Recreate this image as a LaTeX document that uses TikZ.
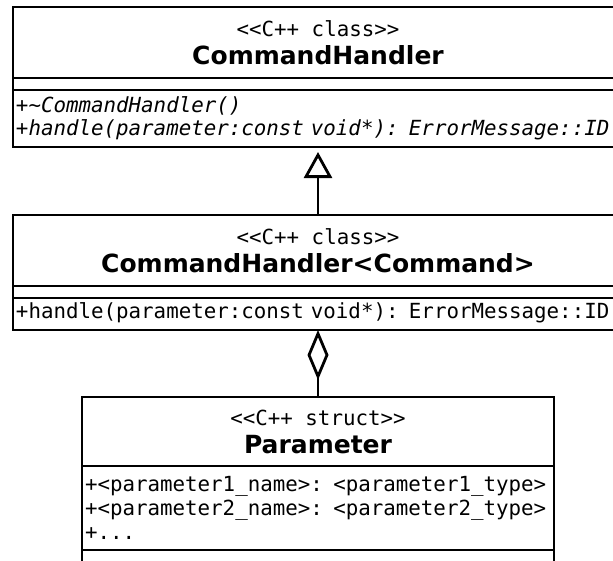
\documentclass[tikz,border=0pt]{standalone}
\usepackage{fontspec}
\setmainfont{DejaVu Sans}
\newfontfamily\umlmono{DejaVu Sans Mono}
\newfontfamily\umlsans{DejaVu Sans}
\usepackage{tikz}
\usetikzlibrary{arrows.meta,positioning}
\newcommand{\umlname}[1]{{\umlsans\bfseries\fontsize{25}{28}\selectfont #1}}

\begin{document}
\begin{tikzpicture}[
  x=1pt, y=-1pt,
  part/.style={draw, line width=2.8pt, outer sep=0pt, inner xsep=3pt, inner ysep=0pt},
  head/.style={part, align=center, font=\umlmono\fontsize{20.8}{28}\selectfont},
  slot/.style={part, align=left, font=\umlmono\fontsize{20.8}{23}\selectfont},
  inherit/.style={-{Triangle[open, length=26pt, width=28pt]}, line width=2.8pt, shorten >=5pt},
  aggr/.style={-{Diamond[open, length=50pt, width=21pt]}, line width=2.8pt}
]
\useasboundingbox (0,0) rectangle (613,560);
\clip (0,0) rectangle (613,560);

\node[head, anchor=north west, minimum width=610pt, minimum height=71pt] (handler) at (13,7)
  {<<C++ class>>\\\umlname{CommandHandler}};
\node[slot, minimum width=610pt, minimum height=12pt, below=0pt of handler] (handlerattr) {};
\node[slot, text width=604pt, minimum height=57pt, below=0pt of handlerattr] (handlerops)
  {\itshape +\textasciitilde CommandHandler()\\\itshape +handle(parameter:const void*): ErrorMessage::ID};

\node[head, anchor=north west, minimum width=610pt, minimum height=71pt] (tmpl) at (13,215)
  {<<C++ class>>\\\umlname{CommandHandler<Command>}};
\node[slot, minimum width=610pt, minimum height=12pt, below=0pt of tmpl] (tmplattr) {};
\node[slot, text width=604pt, minimum height=32pt, text depth=7pt, below=0pt of tmplattr] (tmplops)
  {+handle(parameter:const void*): ErrorMessage::ID};

\node[head, anchor=north west, minimum width=472pt, minimum height=69pt] (param) at (82,397)
  {<<C++ struct>>\\\umlname{Parameter}};
\node[slot, text width=466pt, minimum height=84pt, font=\umlmono\fontsize{20.8}{24}\selectfont, below=0pt of param] (paramattr)
  {+<parameter1\_name>: <parameter1\_type>\\+<parameter2\_name>: <parameter2\_type>\\+...};
\node[slot, minimum width=472pt, minimum height=20pt, below=0pt of paramattr] (paramops) {};

\draw[inherit] (tmpl.north) -- (handlerops.south);
\draw[aggr] (param.north) -- (tmplops.south);
\end{tikzpicture}
\end{document}
